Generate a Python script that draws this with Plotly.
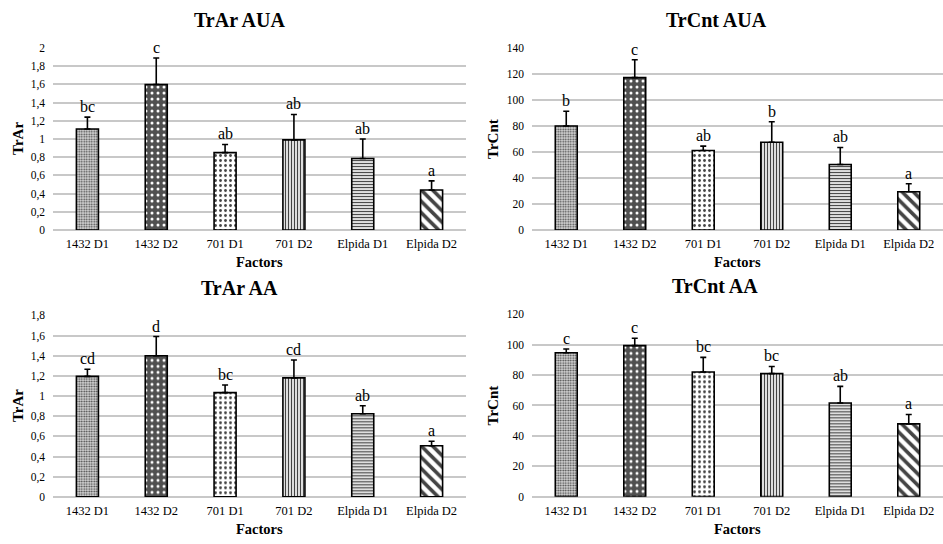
import plotly.graph_objects as go

categories = ["1432 D1", "1432 D2", "701 D1", "701 D2", "Elpida D1", "Elpida D2"]

trar_aua_mean = [1.11, 1.60, 0.85, 0.99, 0.785, 0.44]
trar_aua_err = [0.13, 0.29, 0.09, 0.28, 0.215, 0.10]
trar_aua_letters = ["bc", "c", "ab", "ab", "ab", "a"]

trcnt_aua_mean = [80.0, 117.2, 61.2, 67.5, 50.4, 29.4]
trcnt_aua_err = [11.3, 13.8, 3.3, 15.8, 13.1, 6.2]
trcnt_aua_letters = ["b", "c", "ab", "b", "ab", "a"]

trar_aa_mean = [1.195, 1.40, 1.034, 1.18, 0.824, 0.507]
trar_aa_err = [0.071, 0.19, 0.076, 0.177, 0.08, 0.045]
trar_aa_letters = ["cd", "d", "bc", "cd", "ab", "a"]

trcnt_aa_mean = [94.7, 99.4, 82.0, 81.0, 61.6, 47.9]
trcnt_aa_err = [2.5, 4.9, 9.7, 4.7, 11.0, 6.2]
trcnt_aa_letters = ["c", "c", "bc", "bc", "ab", "a"]

W, H = 943, 544
SERIF = "Liberation Serif"

pat_shape = [".", ".", ".", "|", "-", "\\"]
pat_fg = ["#9a9a9a", "#ffffff", "#000000", "#000000", "#000000", "#000000"]
pat_bg = ["#d8d8d8", "#505050", "#ffffff", "#ffffff", "#ffffff", "#ffffff"]
pat_size = [2.5, 6, 5, 3, 3, 8]
pat_sol = [0.4, 0.2, 0.25, 0.45, 0.45, 0.45]

panels = [
    dict(title="TrAr AUA", ylab="TrAr", mean=trar_aua_mean, err=trar_aua_err, letters=trar_aua_letters,
         rng=[0, 2], dtick=0.2, px=(53, 466), py=(43, 229), tx=240, ty=14, ax=18, fac_y=262),
    dict(title="TrCnt AUA", ylab="TrCnt", mean=trcnt_aua_mean, err=trcnt_aua_err, letters=trcnt_aua_letters,
         rng=[0, 140], dtick=20, px=(532, 943), py=(43, 229), tx=716, ty=14, ax=493, fac_y=262),
    dict(title="TrAr AA", ylab="TrAr", mean=trar_aa_mean, err=trar_aa_err, letters=trar_aa_letters,
         rng=[0, 1.8], dtick=0.2, px=(53, 466), py=(316.3, 502), tx=240, ty=288, ax=18, fac_y=535),
    dict(title="TrCnt AA", ylab="TrCnt", mean=trcnt_aa_mean, err=trcnt_aa_err, letters=trcnt_aa_letters,
         rng=[0, 120], dtick=20, px=(532, 943), py=(315.3, 501.7), tx=715, ty=286, ax=493, fac_y=535),
]

fig = go.Figure()
annotations = []

for i, p in enumerate(panels, start=1):
    xa = "x" if i == 1 else f"x{i}"
    ya = "y" if i == 1 else f"y{i}"
    fig.add_trace(go.Bar(
        x=categories, y=p["mean"], xaxis=xa, yaxis=ya, width=0.32,
        marker=dict(
            color=pat_bg,
            line=dict(color="#000000", width=1.6),
            pattern=dict(shape=pat_shape, fgcolor=pat_fg, fgopacity=1,
                         size=pat_size, solidity=pat_sol, fillmode="overlay"),
        ),
        error_y=dict(type="data", symmetric=False, array=p["err"],
                     arrayminus=[0] * len(p["err"]), color="#000000",
                     thickness=1.6, width=3),
        showlegend=False, hoverinfo="skip",
    ))
    xd = [p["px"][0] / W, p["px"][1] / W]
    yd = [1 - p["py"][1] / H, 1 - p["py"][0] / H]
    fig.update_layout(**{
        ("xaxis" if i == 1 else f"xaxis{i}"): dict(
            domain=xd, anchor=ya, showgrid=False, showline=False, ticks="",
            ticklabelstandoff=5,
            tickfont=dict(family=SERIF, size=12.5, color="#000000"), fixedrange=True),
        ("yaxis" if i == 1 else f"yaxis{i}"): dict(
            domain=yd, anchor=xa, range=p["rng"], dtick=p["dtick"], showgrid=True,
            gridcolor="#c8c8c8", gridwidth=1.5, zeroline=True, zerolinecolor="#c8c8c8",
            zerolinewidth=1.5, showline=False, ticks="", ticklabelstandoff=7,
            tickfont=dict(family=SERIF, size=11.5, color="#000000"), fixedrange=True),
    })
    for c, m, e, L in zip(categories, p["mean"], p["err"], p["letters"]):
        annotations.append(dict(x=c, y=m + e, xref=xa, yref=ya, text=L, showarrow=False,
                                yanchor="bottom", yshift=0,
                                font=dict(family=SERIF, size=16, color="#000000")))
    annotations.append(dict(x=p["tx"] / W, y=1 - p["ty"] / H, xref="paper", yref="paper",
                            text="<b>" + p["title"] + "</b>", showarrow=False,
                            xanchor="center", yanchor="middle",
                            font=dict(family=SERIF, size=20, color="#000000")))
    annotations.append(dict(x=p["ax"] / W, y=1 - (p["py"][0] + p["py"][1]) / 2 / H,
                            xref="paper", yref="paper", text="<b>" + p["ylab"] + "</b>",
                            showarrow=False, textangle=-90, xanchor="center", yanchor="middle",
                            font=dict(family=SERIF, size=15, color="#000000")))
    annotations.append(dict(x=(p["px"][0] + p["px"][1]) / 2 / W, y=1 - p["fac_y"] / H,
                            xref="paper", yref="paper", text="<b>Factors</b>",
                            showarrow=False, xanchor="center", yanchor="middle",
                            font=dict(family=SERIF, size=14.5, color="#000000")))

fig.update_layout(
    width=W, height=H, margin=dict(l=0, r=0, t=0, b=0),
    paper_bgcolor="#ffffff", plot_bgcolor="#ffffff",
    separators=",.", annotations=annotations, bargap=0.68,
)

fig.write_html("out.html")
